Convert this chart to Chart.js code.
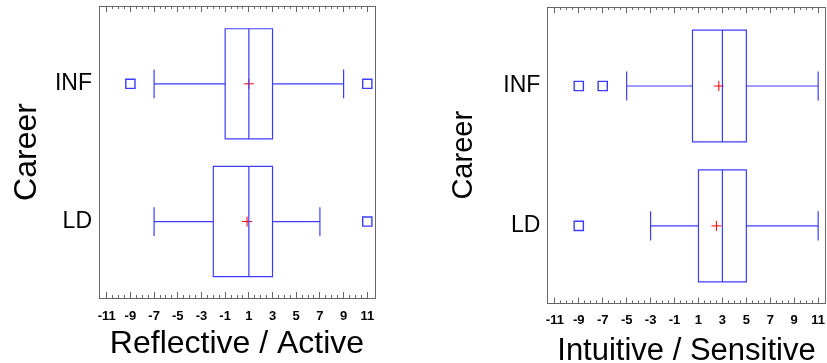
<!DOCTYPE html>
<html><head><meta charset="utf-8">
<script src="https://cdn.jsdelivr.net/npm/chart.js@4.4.0/dist/chart.umd.min.js"></script>
<style>
html,body{margin:0;padding:0;background:#fff;overflow:hidden;width:827px;height:363px;}
canvas{position:absolute;top:0;}
#cL{left:0}
#cR{left:413px}
</style></head><body>
<canvas id="cL" width="413" height="363"></canvas>
<canvas id="cR" width="414" height="370"></canvas>
<script>
// ---------- data ----------
const categories = ['INF', 'LD'];
const xTickValues = [-11, -9, -7, -5, -3, -1, 1, 3, 5, 7, 9, 11];

// Reflective / Active
const raMin = [-7, -7];
const raQ1 = [-1, -2];
const raMedian = [1, 1];
const raQ3 = [3, 3];
const raMax = [9, 7];
const raMean = [1, 0.85];
const raOutliers = [[-9, 11], [11]];

// Intuitive / Sensitive
const isMin = [-5, -3];
const isQ1 = [0.5, 1];
const isMedian = [3, 3];
const isQ3 = [5, 5];
const isMax = [11, 11];
const isMean = [2.7, 2.5];
const isOutliers = [[-9, -7], [-9]];

// ---------- styling ----------
const FONT = "'Liberation Sans', Arial, sans-serif";
const BLUE = 'rgb(60,60,255)';
const RED = '#ff0000';
const AXIS = '#666';
const BOX_HALF = 0.4, CAP_HALF = 0.1;
const Y_MIN = 0.445, Y_MAX = 2.565;

function catY(i) { return categories.length - i; }
function gap() { return {x: null, y: null}; }

function buildDatasets(mn, q1, md, q3, mx, mean, outl) {
  const ds = [];
  categories.forEach((c, i) => {
    const y = catY(i);
    ds.push({
      label: c, showLine: true, pointRadius: 0, borderColor: BLUE, backgroundColor: BLUE,
      borderWidth: 1.2, fill: false, spanGaps: false, borderCapStyle: 'square', borderJoinStyle: 'miter',
      xAxisID: 'x', yAxisID: 'y',
      data: [
        {x: q1[i], y: y - BOX_HALF}, {x: q3[i], y: y - BOX_HALF}, {x: q3[i], y: y + BOX_HALF},
        {x: q1[i], y: y + BOX_HALF}, {x: q1[i], y: y - BOX_HALF}, gap(),
        {x: md[i], y: y - BOX_HALF}, {x: md[i], y: y + BOX_HALF}, gap(),
        {x: mn[i], y: y}, {x: q1[i], y: y}, gap(),
        {x: q3[i], y: y}, {x: mx[i], y: y}, gap(),
        {x: mn[i], y: y - CAP_HALF}, {x: mn[i], y: y + CAP_HALF}, gap(),
        {x: mx[i], y: y - CAP_HALF}, {x: mx[i], y: y + CAP_HALF}
      ]
    });
  });
  ds.push({
    label: 'mean', xAxisID: 'x', yAxisID: 'y', showLine: false,
    data: categories.map((c, i) => ({x: mean[i], y: catY(i)})),
    pointStyle: 'cross', pointRadius: 5, pointBorderColor: RED, pointBorderWidth: 1
  });
  const od = [];
  outl.forEach((arr, i) => arr.forEach(v => od.push({x: v, y: catY(i)})));
  ds.push({
    label: 'outliers', xAxisID: 'x', yAxisID: 'y', showLine: false, data: od,
    pointStyle: 'rect', pointRadius: 6.5, pointBorderColor: BLUE,
    pointBackgroundColor: 'rgba(0,0,0,0)', pointBorderWidth: 1.4
  });
  return ds;
}

function makeOptions(cfg) {
  const noPad = s => { s.paddingTop = 0; s.paddingBottom = 0; s.paddingLeft = 0; s.paddingRight = 0; };
  const fitH = h => s => { s.height = h; noPad(s); };
  const fitW = w => s => { s.width = w; noPad(s); };
  const setTicks = vals => s => { s.ticks = vals.map(v => ({value: v})); };
  const mn = -cfg.xr, mx = cfg.xr;
  const minorAxis = (pos) => ({
    type: 'linear', axis: 'x', position: pos, weight: 0, min: mn, max: mx, afterFit: fitH(0),
    ticks: {display: false, stepSize: 0.5, autoSkip: false},
    grid: {display: true, drawOnChartArea: false, drawTicks: true, tickLength: -3, tickColor: AXIS, tickWidth: 1},
    border: {display: false}
  });
  return {
    responsive: false, animation: false, events: [],
    layout: {padding: cfg.padding, autoPadding: false},
    plugins: {legend: {display: false}, tooltip: {enabled: false}},
    scales: {
      x: {
        type: 'linear', axis: 'x', position: 'bottom', weight: 10, min: mn, max: mx,
        afterBuildTicks: setTicks(xTickValues), afterFit: fitH(cfg.xH),
        grid: {display: true, drawOnChartArea: false, drawTicks: true, tickLength: -6, tickColor: AXIS, tickWidth: 1},
        border: {display: true, color: AXIS, width: 1},
        ticks: {autoSkip: false, maxRotation: 0, minRotation: 0, padding: cfg.xTickPad, color: '#000',
          font: {family: FONT, size: 13, weight: 'bold'}, callback: v => String(v)},
        title: {display: true, text: cfg.xTitle, color: '#000',
          font: {family: FONT, size: cfg.xTitleSize}, padding: {top: 0, bottom: 0}}
      },
      xMinor: minorAxis('bottom'),
      xTop: {
        type: 'linear', axis: 'x', position: 'top', weight: 10, min: mn, max: mx,
        afterBuildTicks: setTicks(xTickValues), afterFit: fitH(0),
        ticks: {display: false},
        grid: {display: true, drawOnChartArea: false, drawTicks: true, tickLength: -6, tickColor: AXIS, tickWidth: 1},
        border: {display: true, color: AXIS, width: 1}
      },
      xMinorTop: minorAxis('top'),
      y: {
        type: 'linear', axis: 'y', position: 'left', min: Y_MIN, max: Y_MAX,
        afterBuildTicks: setTicks(categories.map((c, i) => catY(i))), afterFit: fitW(cfg.yW),
        grid: {display: true, drawOnChartArea: false, drawTicks: false},
        border: {display: true, color: AXIS, width: 1},
        ticks: {padding: 7, color: '#000', font: {family: FONT, size: 23},
          callback: v => categories[categories.length - v]},
        title: {display: true, text: 'Career', color: '#000',
          font: {family: FONT, size: cfg.yTitleSize}, padding: {top: cfg.yTitlePad, bottom: 0}}
      },
      yRight: {
        type: 'linear', axis: 'y', position: 'right', min: Y_MIN, max: Y_MAX, afterFit: fitW(0),
        ticks: {display: false},
        grid: {display: false, drawOnChartArea: false, drawTicks: false},
        border: {display: true, color: AXIS, width: 1}
      }
    }
  };
}

new Chart(document.getElementById('cL'), {
  type: 'scatter',
  data: {datasets: buildDatasets(raMin, raQ1, raMedian, raQ3, raMax, raMean, raOutliers)},
  options: makeOptions({
    padding: {left: 0, right: 38, top: 6, bottom: 0}, xr: 11.65, yW: 99, xH: 65,
    xTickPad: 16.9, xTitle: 'Reflective / Active', xTitleSize: 32, yTitleSize: 32, yTitlePad: 8.3
  })
});

new Chart(document.getElementById('cR'), {
  type: 'scatter',
  data: {datasets: buildDatasets(isMin, isQ1, isMedian, isQ3, isMax, isMean, isOutliers)},
  options: makeOptions({
    padding: {left: 0, right: 1.3, top: 7, bottom: 0}, xr: 11.63, yW: 134.3, xH: 66.5,
    xTickPad: 14.7, xTitle: 'Intuitive / Sensitive', xTitleSize: 31, yTitleSize: 29, yTitlePad: 33.6
  })
});
</script>
</body></html>
